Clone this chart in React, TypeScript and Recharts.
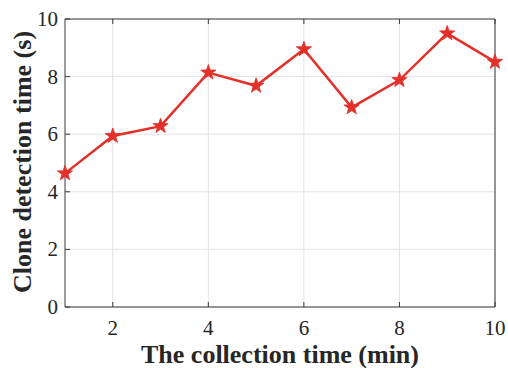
import { LineChart, Line, XAxis, YAxis, CartesianGrid } from "recharts";

const minutes = [1, 2, 3, 4, 5, 6, 7, 8, 9, 10];
const detectionTime = [4.64, 5.94, 6.28, 8.14, 7.68, 8.95, 6.93, 7.88, 9.5, 8.51];
const xTicks = [2, 4, 6, 8, 10];
const yTicks = [0, 2, 4, 6, 8, 10];

const data = minutes.map((m, i) => ({ m, t: detectionTime[i] }));

const RED = "#e2302a";
const AXIS = "#3a3a3a";
const FONT = "'Liberation Serif', 'Times New Roman', serif";

function star(cx: number, cy: number, r: number) {
  const pts: string[] = [];
  for (let i = 0; i < 10; i++) {
    const rad = i % 2 === 0 ? r : r * 0.4;
    const a = -Math.PI / 2 + (i * Math.PI) / 5;
    pts.push(`${cx + rad * Math.cos(a)},${cy + rad * Math.sin(a)}`);
  }
  return pts.join(" ");
}

const StarDot = (p: any) => {
  if (p.cx == null || p.cy == null) return null;
  return <polygon key={p.index} points={star(p.cx, p.cy, 8)} fill={RED} stroke={RED} strokeWidth={0.8} />;
};

const BottomTick = (p: any) => (
  <g>
    <line x1={p.x} y1={p.y} x2={p.x} y2={p.y - 5} stroke={AXIS} />
    <text x={p.x} y={p.y + 28} textAnchor="middle" fontSize={21} fill="#262626" fontFamily={FONT}>
      {p.payload.value}
    </text>
  </g>
);

const LeftTick = (p: any) => (
  <g>
    <line x1={p.x} y1={p.y} x2={p.x + 5} y2={p.y} stroke={AXIS} />
    <text x={p.x - 7} y={p.y + 7} textAnchor="end" fontSize={21} fill="#262626" fontFamily={FONT}>
      {p.payload.value}
    </text>
  </g>
);

const TopTick = (p: any) => <line x1={p.x} y1={p.y} x2={p.x} y2={p.y + 5} stroke={AXIS} />;
const RightTick = (p: any) => <line x1={p.x} y1={p.y} x2={p.x - 5} y2={p.y} stroke={AXIS} />;

export default function App() {
  return (
    <div style={{ position: "absolute", left: 0, top: 0, width: 508, height: 368, background: "#fff" }}>
      <LineChart width={508} height={368} data={data} margin={{ top: 18, right: 12, bottom: 60, left: 64 }}>
        <CartesianGrid stroke="#e3e3e3" strokeWidth={1} horizontalValues={yTicks} verticalValues={xTicks} />
        <XAxis
          dataKey="m"
          type="number"
          domain={[1, 10]}
          ticks={xTicks}
          height={1}
          tickSize={0}
          tickMargin={0}
          tick={BottomTick}
          tickLine={false}
          stroke={AXIS}
          interval={0}
        />
        <XAxis
          xAxisId="top"
          orientation="top"
          dataKey="m"
          type="number"
          domain={[1, 10]}
          ticks={xTicks}
          height={1}
          tickSize={0}
          tickMargin={0}
          tick={TopTick}
          tickLine={false}
          stroke={AXIS}
          interval={0}
        />
        <YAxis
          type="number"
          domain={[0, 10]}
          ticks={yTicks}
          width={1}
          tickSize={0}
          tickMargin={0}
          tick={LeftTick}
          tickLine={false}
          stroke={AXIS}
          interval={0}
        />
        <YAxis
          yAxisId="right"
          orientation="right"
          type="number"
          domain={[0, 10]}
          ticks={yTicks}
          width={1}
          tickSize={0}
          tickMargin={0}
          tick={RightTick}
          tickLine={false}
          stroke={AXIS}
          interval={0}
        />
        <Line
          dataKey="t"
          stroke={RED}
          strokeWidth={2.5}
          dot={StarDot}
          activeDot={false}
          isAnimationActive={false}
        />
      </LineChart>
      <div
        style={{
          position: "absolute",
          left: 280,
          top: 355,
          transform: "translate(-50%, -50%)",
          whiteSpace: "nowrap",
          fontFamily: FONT,
          fontWeight: "bold",
          fontSize: 26,
          color: "#262626",
        }}
      >
        The collection time (min)
      </div>
      <div
        style={{
          position: "absolute",
          left: 23,
          top: 162,
          transform: "translate(-50%, -50%) rotate(-90deg)",
          whiteSpace: "nowrap",
          fontFamily: FONT,
          fontWeight: "bold",
          fontSize: 26,
          color: "#262626",
        }}
      >
        Clone detection time (s)
      </div>
    </div>
  );
}
